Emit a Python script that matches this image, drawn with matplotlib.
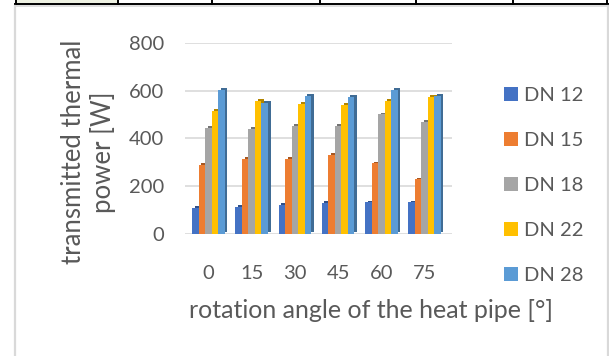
import numpy as np
import matplotlib.pyplot as plt
from matplotlib.lines import Line2D
from matplotlib.patches import Rectangle
from matplotlib.colors import to_rgb

# rotation angle of the heat pipe [deg]
angles = ['0', '15', '30', '45', '60', '75']
series = ['DN 12', 'DN 15', 'DN 18', 'DN 22', 'DN 28']
# transmitted thermal power [W]
dn12 = [110, 115, 120, 128, 132, 132]
dn15 = [290, 315, 315, 330, 295, 228]
dn18 = [442, 440, 452, 452, 500, 468]
dn22 = [515, 555, 545, 538, 558, 575]
dn28 = [603, 548, 577, 574, 603, 577]
values = [dn12, dn15, dn18, dn22, dn28]
colors = ['#4472C4', '#ED7D31', '#A5A5A5', '#FFC000', '#5B9BD5']

plt.rcParams['font.family'] = ['Lato', 'DejaVu Sans']
txt = '#595959'

W, H = 609, 356
fig = plt.figure(figsize=(W / 100, H / 100), dpi=100)

# table row above the chart and the chart frame
fig.patches.append(Rectangle((16 / W, 1 - 4 / H), 102 / W, 4 / H, transform=fig.transFigure,
                             facecolor='#EEF1E2', edgecolor='none'))
fig.lines.append(Line2D([15 / W, 1], [1 - 4 / H, 1 - 4 / H], transform=fig.transFigure, color='black', lw=1.4))
for xv in [16, 118, 212, 320, 416, 513, 607]:
    fig.lines.append(Line2D([xv / W, xv / W], [1 - 4 / H, 1], transform=fig.transFigure, color='black', lw=1.4))
frame = '#D9D9D9'
fig.lines.append(Line2D([15 / W, 15 / W], [0, 1 - 5.5 / H], transform=fig.transFigure, color=frame, lw=1.6))
fig.lines.append(Line2D([607.5 / W, 607.5 / W], [0, 1 - 5.5 / H], transform=fig.transFigure, color=frame, lw=1.6))
fig.lines.append(Line2D([15 / W, 607.5 / W], [1 - 5.5 / H, 1 - 5.5 / H], transform=fig.transFigure, color=frame, lw=1.2))

ax = fig.add_axes([185 / W, (H - 234) / H, (452 - 185) / W, (234 - 42.7) / H])

x = np.arange(len(angles))
w = 0.151
dx, dy = 0.06, 8
handles = []
for k, (vals, c) in enumerate(zip(values, colors)):
    pos = x + (k - 2) * w
    dark = tuple(v * 0.7 for v in to_rgb(c))
    ax.bar(pos + dx, vals, width=w, bottom=dy, color=dark, zorder=2)
    b = ax.bar(pos, vals, width=w, color=c, zorder=3, label=series[k])
    handles.append(b)

ax.set_xlim(-0.544, 5.637)
ax.set_ylim(0, 800)
ax.set_yticks([0, 200, 400, 600, 800])
ax.set_xticks(x)
ax.set_xticklabels(angles)
for s in ax.spines.values():
    s.set_visible(False)
ax.yaxis.grid(True, color='#D9D9D9', lw=1.2, zorder=0)
ax.set_axisbelow(True)
ax.tick_params(axis='y', length=0, pad=15, labelsize=14.5, labelcolor=txt)
ax.tick_params(axis='x', length=0, pad=22, labelsize=14.5, labelcolor=txt)

fig.text(371 / W, 1 - 311 / H, 'rotation angle of the heat pipe [°]', ha='center', va='center',
         fontsize=18, color=txt)
fig.text(88.5 / W, 1 - 152 / H, 'transmitted thermal\npower [W]', ha='center', va='center',
         rotation=90, fontsize=18.5, color=txt, linespacing=1.2, multialignment='center')

fig.legend(handles=handles, loc='upper left', bbox_to_anchor=(494 / W, 1 - 77 / H), frameon=False,
           fontsize=14.5, labelcolor=txt, handlelength=0.7, handleheight=0.7, handletextpad=0.3,
           labelspacing=1.38, borderpad=0)

fig.savefig('out.png', dpi=100)
